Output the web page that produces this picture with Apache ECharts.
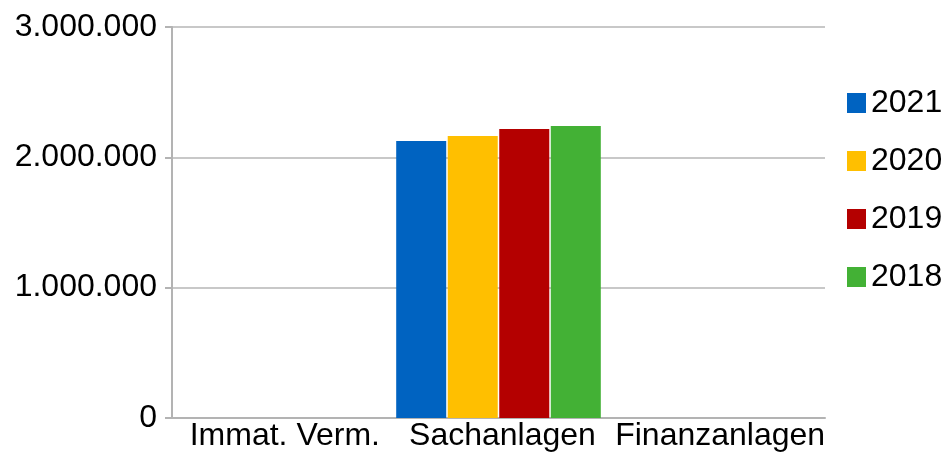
<!DOCTYPE html>
<html>
<head>
<meta charset="utf-8">
<script src="https://cdn.jsdelivr.net/npm/echarts@6/dist/echarts.min.js"></script>
<style>
  html, body { margin: 0; padding: 0; background: #fff; }
  #chart { width: 950px; height: 455px; }
</style>
</head>
<body>
<div id="chart"></div>
<script>
var categories = ['Immat. Verm.', 'Sachanlagen', 'Finanzanlagen'];
var years = ['2021', '2020', '2019', '2018'];
var values2021 = [0, 2126000, 0];
var values2020 = [0, 2164000, 0];
var values2019 = [0, 2218000, 0];
var values2018 = [0, 2241000, 0];
var colors = ['#0063c1', '#ffbf00', '#b40000', '#43b135'];

function fmt(v) {
  return String(v).replace(/\B(?=(\d{3})+(?!\d))/g, '.');
}

var myChart = echarts.init(document.getElementById('chart'));
var seriesData = [values2021, values2020, values2019, values2018];

myChart.setOption({
  animation: false,
  color: colors,
  textStyle: { fontFamily: 'Liberation Sans, Arial, sans-serif' },
  grid: { left: 172, right: 125, top: 27, bottom: 37 },
  legend: {
    orient: 'vertical',
    left: 847,
    top: 87,
    padding: 0,
    itemWidth: 19,
    itemHeight: 20,
    itemGap: 26,
    icon: 'rect',
    textStyle: { fontSize: 32, color: '#000' },
    data: years
  },
  xAxis: {
    type: 'category',
    data: categories,
    axisLine: { lineStyle: { color: '#b3b3b3', width: 2 } },
    axisTick: { show: false },
    axisLabel: { fontSize: 32, color: '#000', margin: 2, interval: 0, padding: [0, 0, 0, 8] }
  },
  yAxis: {
    type: 'value',
    min: 0,
    max: 3000000,
    interval: 1000000,
    axisLine: { show: true, lineStyle: { color: '#b3b3b3', width: 2 } },
    axisTick: { show: true, length: 7, lineStyle: { color: '#b3b3b3', width: 2 } },
    splitLine: { lineStyle: { color: '#c8c8c8', width: 2 } },
    axisLabel: { fontSize: 32, color: '#000', margin: 15, formatter: fmt }
  },
  series: years.map(function (y, i) {
    return {
      name: y,
      type: 'bar',
      data: seriesData[i],
      barGap: '3%',
      barCategoryGap: '6%'
    };
  })
});
</script>
</body>
</html>
